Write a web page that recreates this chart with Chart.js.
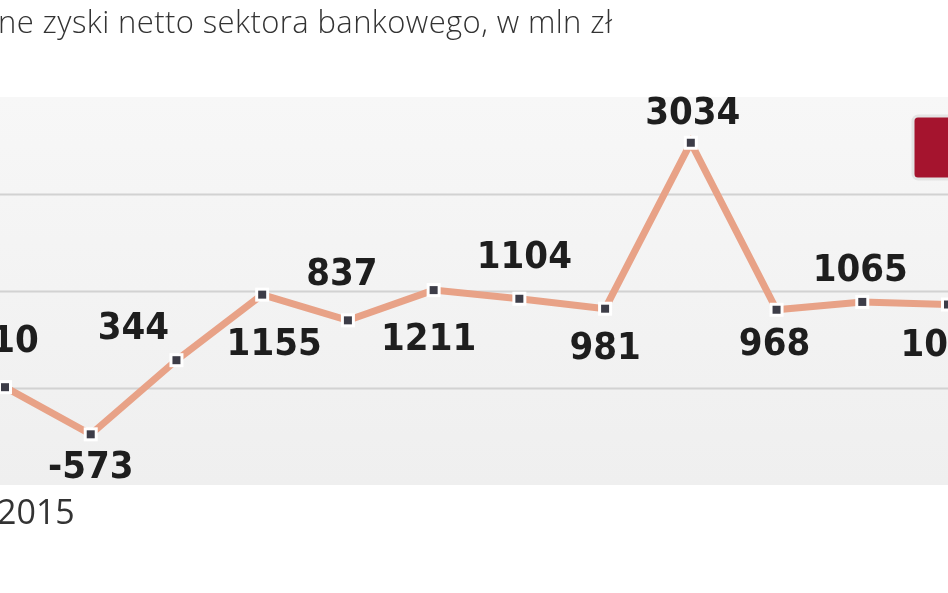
<!DOCTYPE html>
<html>
<head>
<meta charset="utf-8">
<script src="https://cdn.jsdelivr.net/npm/chart.js@4"></script>
<style>
  body { margin: 0; background: #fff; }
  #wrap { position: relative; width: 948px; height: 593px; overflow: hidden; }
  .txt { position: absolute; font-family: 'Open Sans', sans-serif; color: #333; white-space: nowrap; }
</style>
</head>
<body>
<div id="wrap">
  <canvas id="lineChart" width="948" height="593"></canvas>
  <div class="txt" style="left:-2px; top:0px; font-size:31px; font-weight:300; letter-spacing:0.4px;">ne zyski netto sektora bankowego, w mln zł</div>
  <div class="txt" style="left:-3px; top:488px; font-size:34px;">2015</div>
</div>
<script>
const labels = ['1', '2', '3', '4', '5', '6', '7', '8', '9', '10', '11', '12']
const values = [10, -573, 344, 1155, 837, 1211, 1104, 981, 3034, 968, 1065, 1033]
// label offsets relative to the point
const labelDx = [10, 0, -43, 12, -6, -5, 5, 0, 2, -2, -2, 0]
const labelDy = [-45, 34, -31, 50, -45, 50, -41, 40, -29, 35, -31, 42]

const decor = {
    id: 'decor',
    beforeDatasetsDraw(chart) {
        const { ctx, chartArea: a, scales: { y } } = chart
        const g = ctx.createLinearGradient(0, a.top, 0, a.bottom)
        g.addColorStop(0, '#f7f7f7')
        g.addColorStop(1, '#efefef')
        ctx.fillStyle = g
        ctx.fillRect(0, a.top, chart.width, a.bottom - a.top)
        ctx.strokeStyle = '#d2d2d2'
        ctx.lineWidth = 2
        ;[0, 1200, 2400].forEach(v => {
            const py = Math.round(y.getPixelForValue(v)) + 0.5
            ctx.beginPath()
            ctx.moveTo(0, py)
            ctx.lineTo(chart.width, py)
            ctx.stroke()
        })
    },
    afterDatasetsDraw(chart) {
        const { ctx } = chart
        const meta = chart.getDatasetMeta(0)
        ctx.save()
        meta.data.forEach(p => {
            ctx.fillStyle = '#ffffff'
            ctx.fillRect(p.x - 7, p.y - 7, 14, 14)
            ctx.fillStyle = '#3d3d48'
            ctx.fillRect(p.x - 4, p.y - 4, 8, 8)
        })
        ctx.font = 'bold 38px "DejaVu Sans Condensed", "DejaVu Sans", sans-serif'
        ctx.fillStyle = '#1e1e1e'
        ctx.textAlign = 'center'
        ctx.textBaseline = 'middle'
        meta.data.forEach((p, i) => {
            ctx.fillText(String(values[i]), p.x + labelDx[i], p.y + labelDy[i])
        })
        ctx.fillStyle = '#a5142e'
        ctx.strokeStyle = '#e4e4e4'
        ctx.lineWidth = 3
        ctx.beginPath()
        ctx.roundRect(913, 116, 60, 63, 5)
        ctx.fill()
        ctx.stroke()
        ctx.restore()
    }
}

new Chart(document.getElementById('lineChart'), {
    type: 'line',
    data: {
        labels: labels,
        datasets: [{
            data: values,
            borderColor: '#e8a287',
            borderWidth: 7,
            pointRadius: 0,
            clip: false,
            tension: 0
        }]
    },
    options: {
        responsive: false,
        animation: false,
        layout: { padding: { top: 97, bottom: 108, left: 5, right: 0 } },
        plugins: { legend: { display: false }, tooltip: { enabled: false } },
        scales: {
            x: { display: false, offset: false },
            y: { display: false, min: -1200, max: 3600 }
        }
    },
    plugins: [decor]
})
</script>
</body>
</html>
